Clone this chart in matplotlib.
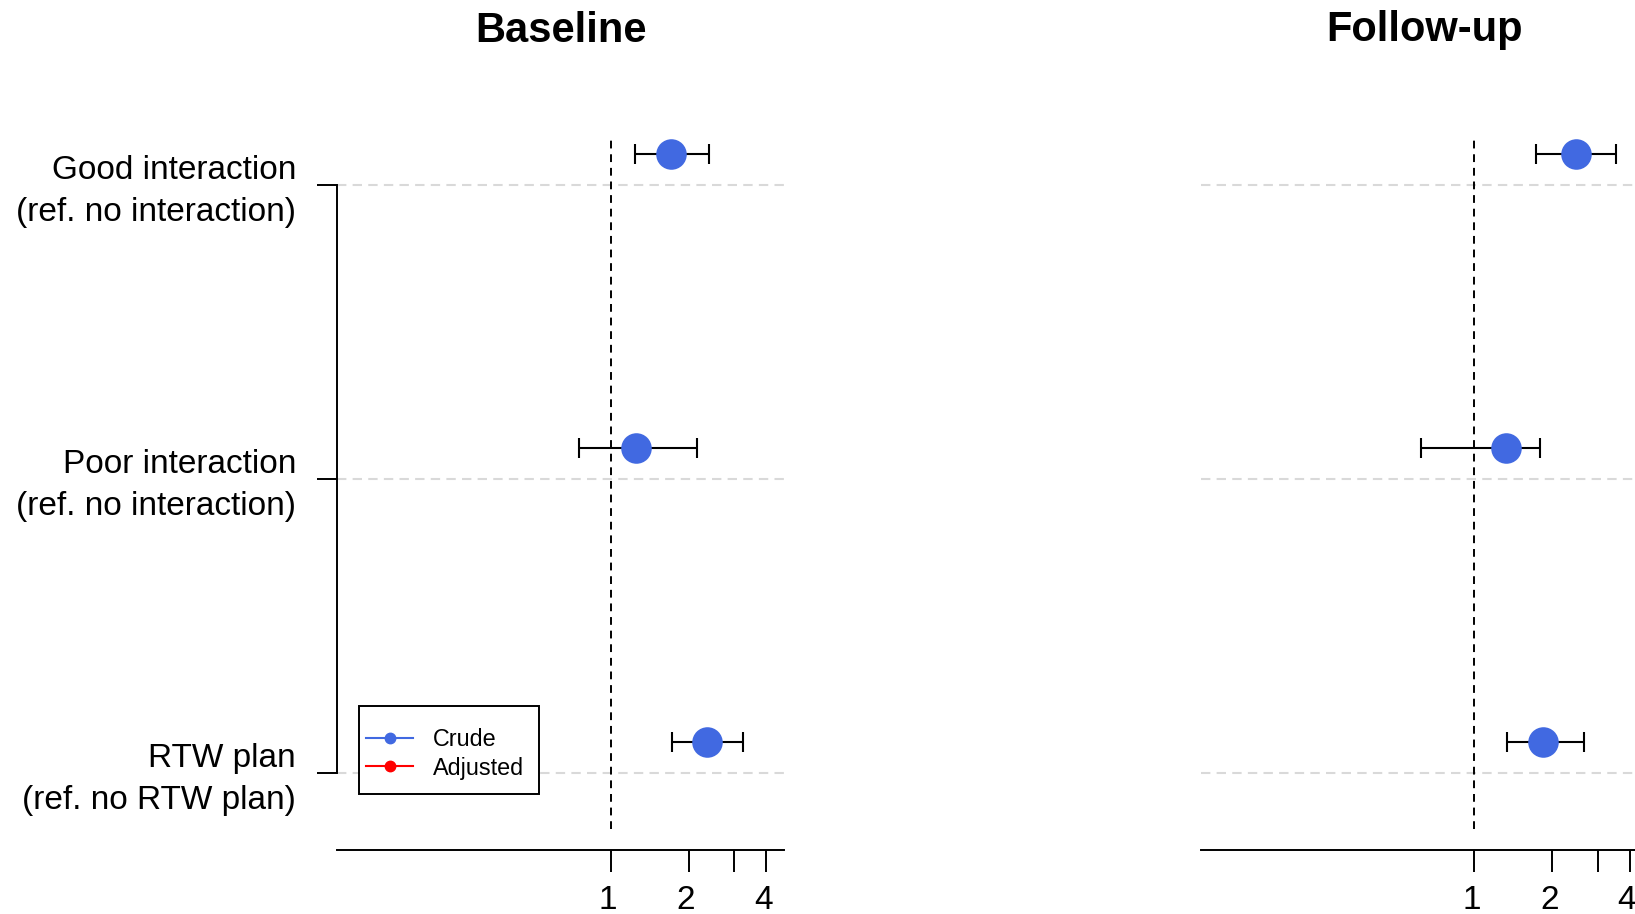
import matplotlib
matplotlib.use("Agg")
import matplotlib.pyplot as plt
import matplotlib.transforms as mtrans
from matplotlib.lines import Line2D
from matplotlib.patches import Rectangle

plt.rcParams['font.family'] = ['Liberation Sans', 'DejaVu Sans']

# ---- data ----
categories = ["Good interaction\n(ref. no interaction)",
              "Poor interaction\n(ref. no interaction)",
              "RTW plan\n(ref. no RTW plan)"]
rows = [3, 2, 1]
panels = ["Baseline", "Follow-up"]
baseline_est = [1.71, 1.25, 2.35]
baseline_lo = [1.24, 0.75, 1.72]
baseline_hi = [2.40, 2.16, 3.26]
followup_est = [2.47, 1.33, 1.85]
followup_lo = [1.73, 0.62, 1.34]
followup_hi = [3.53, 1.79, 2.65]
xticks = [1, 2, 3, 4]
xticklabels = ["1", "2", "", "4"]
legend_labels = ["Crude", "Adjusted"]

blue = "#4169E1"
red = "#FF0000"
legend_colors = [blue, red]
offset = 0.107

fig = plt.figure(figsize=(16.35, 9.14), dpi=100)
W, H = 1635, 914
ax_left_px = [337, 1200.5]
ax_w_px = 447
ax_top_px, ax_bot_px = 138, 829

data = [(baseline_est, baseline_lo, baseline_hi),
        (followup_est, followup_lo, followup_hi)]

shift_x = mtrans.ScaledTranslation(-3 / 100, 0, fig.dpi_scale_trans)
shift_y = mtrans.ScaledTranslation(0, 2.5 / 100, fig.dpi_scale_trans)

axes = []
for i, (title, (est, lo, hi)) in enumerate(zip(panels, data)):
    ax = fig.add_axes([ax_left_px[i] / W, 1 - ax_bot_px / H,
                       ax_w_px / W, (ax_bot_px - ax_top_px) / H])
    axes.append(ax)
    ax.set_xscale('log')
    ax.set_xlim(0.087, 4.68)
    ax.set_ylim(0.81, 3.16)

    for r in rows:
        ax.axhline(r, color="#d9d9d9", lw=1.5, linestyle=(0, (4.5, 3)), zorder=1)
    ax.axvline(1, color="black", lw=1.4, linestyle=(0, (4, 3)), zorder=2)

    ys = [r + offset for r in rows]
    xerr = [[e - l for e, l in zip(est, lo)], [h - e for e, h in zip(est, hi)]]
    ax.errorbar(est, ys, xerr=xerr, fmt='none', ecolor='black', elinewidth=1.5,
                capsize=7.5, capthick=1.5, zorder=3)
    ax.plot(est, ys, 'o', color=blue, markersize=22, markeredgewidth=0, zorder=4)

    ax.spines['top'].set_visible(False)
    ax.spines['right'].set_visible(False)
    ax.spines['bottom'].set_position(('outward', 15))
    ax.spines['bottom'].set_linewidth(1.4)
    ax.set_xticks(xticks)
    ax.set_xticklabels(xticklabels)
    ax.xaxis.set_minor_locator(matplotlib.ticker.NullLocator())
    ax.tick_params(axis='x', direction='out', length=16, width=1.4, pad=9,
                   labelsize=24)
    for lab in ax.get_xticklabels():
        lab.set_transform(lab.get_transform() + shift_x)

    if i == 0:
        ax.spines['left'].set_bounds(1, 3)
        ax.spines['left'].set_linewidth(1.4)
        ax.set_yticks(rows)
        ax.set_yticklabels(categories, fontsize=24, linespacing=1.45)
        ax.tick_params(axis='y', direction='out', length=14.5, width=1.4, pad=15)
        for lab in ax.get_yticklabels():
            lab.set_transform(lab.get_transform() + shift_y)
    else:
        ax.spines['left'].set_visible(False)
        ax.set_yticks([])

    cx = (ax_left_px[i] + ax_w_px / 2) / W
    fig.text(cx, 1 - 41.5 / H, title, ha='center', va='baseline',
             fontsize=30, fontweight='bold')

# ---- legend (drawn in figure pixel positions) ----
def fx(x):
    return x / W

def fy(y):
    return 1 - y / H

box = Rectangle((fx(359), fy(794)), fx(539) - fx(359), fy(706) - fy(794),
                transform=fig.transFigure, facecolor='white', edgecolor='black',
                lw=1.4, zorder=10)
fig.patches.append(box)
row_y = [737.5, 766.0]
for lab, col, yy in zip(legend_labels, legend_colors, row_y):
    fig.lines.append(Line2D([fx(366), fx(413)], [fy(yy), fy(yy)], color=col, lw=1.5,
                            transform=fig.transFigure, zorder=11))
    fig.lines.append(Line2D([fx(389.5)], [fy(yy)], color=col, marker='o',
                            markersize=7.5, linestyle='none',
                            transform=fig.transFigure, zorder=12))
    fig.text(fx(433), fy(yy + 8.5), lab, ha='left', va='baseline', fontsize=16.8,
             zorder=12)

fig.savefig("out.png", dpi=100)
